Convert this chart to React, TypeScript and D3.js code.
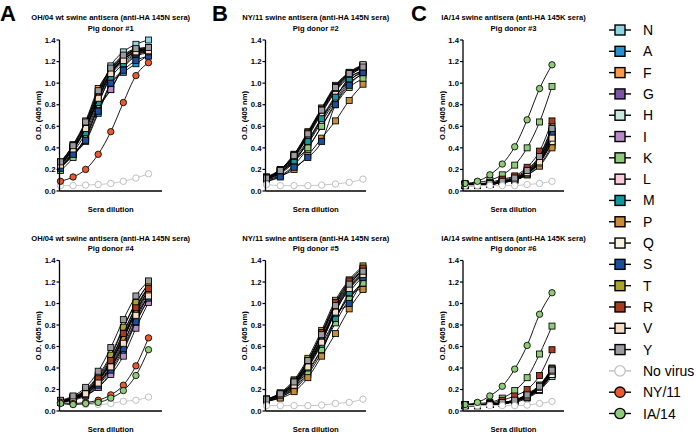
import React from 'react';
import * as d3 from 'd3';

const seriesNames = ['N', 'A', 'F', 'G', 'H', 'I', 'K', 'L', 'M', 'P', 'Q', 'S', 'T', 'R', 'V', 'Y', 'No virus', 'NY/11', 'IA/14'];
const seriesColors = ['#8fd4e2', '#2b90d2', '#f89b4c', '#7b55a5', '#c9e9da', '#b98bc5', '#8ecb79', '#f8cdd7', '#13979b', '#c98b36', '#f8f3dc', '#1b4f9f', '#a9a42b', '#a83a20', '#f6ddc5', '#9b9ba0', '#ffffff', '#e95a2f', '#8ecb79'];
const seriesShapes = ['square', 'square', 'square', 'square', 'square', 'square', 'square', 'square', 'square', 'square', 'square', 'square', 'square', 'square', 'square', 'square', 'circle', 'circle', 'circle'];
const yTicks = [0, 0.2, 0.4, 0.6, 0.8, 1.0, 1.2, 1.4];
const panelLetters = ['A', 'B', 'C'];
const titlesTop = [
  'OH/04 wt swine antisera (anti-HA 145N sera)',
  'NY/11 swine antisera (anti-HA 145N sera)',
  'IA/14 swine antisera (anti-HA 145K sera)',
];
const donorLabels = ['Pig donor #1', 'Pig donor #2', 'Pig donor #3', 'Pig donor #4', 'Pig donor #5', 'Pig donor #6'];

// series order: N A F G H I K L M P Q S T R V Y NoVirus NY/11 IA/14
const donor1 = [
  [0.23, 0.37, 0.60, 0.88, 1.16, 1.29, 1.36, 1.40],
  [0.22, 0.34, 0.46, 0.72, 0.99, 1.10, 1.18, 1.26],
  [0.26, 0.43, 0.65, 0.95, 1.12, 1.24, 1.30, 1.30],
  [0.21, 0.35, 0.48, 0.78, 0.94, 1.14, 1.25, 1.28],
  [0.25, 0.40, 0.58, 0.85, 1.10, 1.22, 1.30, 1.32],
  [0.22, 0.33, 0.50, 0.76, 0.94, 1.15, 1.26, 1.29],
  [0.19, 0.31, 0.51, 0.80, 1.07, 1.20, 1.28, 1.33],
  [0.24, 0.38, 0.57, 0.84, 1.08, 1.22, 1.29, 1.31],
  [0.23, 0.36, 0.54, 0.82, 1.05, 1.18, 1.27, 1.30],
  [0.27, 0.42, 0.63, 0.92, 1.13, 1.25, 1.31, 1.31],
  [0.25, 0.39, 0.59, 0.86, 1.11, 1.23, 1.31, 1.33],
  [0.21, 0.34, 0.47, 0.74, 1.00, 1.12, 1.21, 1.25],
  [0.26, 0.41, 0.62, 0.90, 1.12, 1.24, 1.31, 1.32],
  [0.25, 0.40, 0.61, 0.89, 1.10, 1.22, 1.28, 1.29],
  [0.24, 0.39, 0.58, 0.86, 1.09, 1.21, 1.29, 1.30],
  [0.27, 0.42, 0.64, 0.93, 1.14, 1.26, 1.32, 1.33],
  [0.05, 0.05, 0.055, 0.06, 0.07, 0.09, 0.12, 0.16],
  [0.09, 0.13, 0.20, 0.34, 0.55, 0.82, 1.07, 1.19],
  null,
];
const donor2 = [
  [0.12, 0.18, 0.30, 0.47, 0.68, 0.88, 1.02, 1.12],
  [0.10, 0.16, 0.27, 0.45, 0.66, 0.86, 1.05, 1.11],
  [0.11, 0.17, 0.28, 0.40, 0.60, 0.82, 1.00, 1.08],
  [0.12, 0.19, 0.32, 0.52, 0.74, 0.94, 1.08, 1.15],
  [0.11, 0.17, 0.29, 0.44, 0.64, 0.84, 1.02, 1.10],
  [0.12, 0.19, 0.32, 0.51, 0.73, 0.93, 1.07, 1.14],
  [0.09, 0.14, 0.24, 0.40, 0.60, 0.80, 0.96, 1.04],
  [0.12, 0.18, 0.31, 0.50, 0.72, 0.92, 1.06, 1.16],
  [0.11, 0.17, 0.28, 0.46, 0.67, 0.87, 1.04, 1.12],
  [0.10, 0.14, 0.20, 0.33, 0.49, 0.65, 0.84, 0.99],
  [0.12, 0.19, 0.33, 0.53, 0.76, 0.96, 1.10, 1.17],
  [0.09, 0.13, 0.22, 0.31, 0.46, 0.80, 0.98, 1.10],
  [0.13, 0.20, 0.34, 0.55, 0.77, 0.98, 1.10, 1.16],
  [0.13, 0.20, 0.34, 0.54, 0.76, 0.97, 1.09, 1.15],
  [0.12, 0.19, 0.32, 0.52, 0.75, 0.95, 1.08, 1.17],
  [0.12, 0.19, 0.33, 0.53, 0.75, 0.96, 1.09, 1.15],
  [0.06, 0.05, 0.05, 0.05, 0.055, 0.065, 0.08, 0.11],
  null,
  null,
];
const donor3 = [
  [0.05, 0.05, 0.06, 0.08, 0.10, 0.16, 0.27, 0.47],
  [0.06, 0.06, 0.07, 0.09, 0.11, 0.18, 0.30, 0.55],
  [0.05, 0.05, 0.06, 0.08, 0.10, 0.15, 0.24, 0.42],
  [0.06, 0.06, 0.07, 0.09, 0.12, 0.18, 0.31, 0.56],
  [0.05, 0.06, 0.06, 0.08, 0.10, 0.16, 0.26, 0.45],
  [0.06, 0.06, 0.07, 0.09, 0.11, 0.17, 0.29, 0.52],
  [0.06, 0.08, 0.10, 0.15, 0.24, 0.40, 0.64, 0.97],
  [0.06, 0.06, 0.07, 0.09, 0.11, 0.17, 0.28, 0.50],
  [0.05, 0.06, 0.07, 0.09, 0.11, 0.17, 0.28, 0.51],
  [0.05, 0.05, 0.06, 0.08, 0.10, 0.15, 0.23, 0.40],
  [0.05, 0.06, 0.06, 0.08, 0.10, 0.16, 0.26, 0.46],
  [0.06, 0.06, 0.07, 0.09, 0.12, 0.18, 0.30, 0.54],
  [0.06, 0.06, 0.07, 0.10, 0.13, 0.20, 0.33, 0.60],
  [0.07, 0.07, 0.08, 0.11, 0.14, 0.22, 0.37, 0.65],
  [0.05, 0.06, 0.07, 0.09, 0.11, 0.17, 0.27, 0.49],
  [0.06, 0.06, 0.07, 0.09, 0.12, 0.19, 0.32, 0.58],
  [0.05, 0.05, 0.05, 0.05, 0.05, 0.06, 0.07, 0.09],
  null,
  [0.07, 0.09, 0.15, 0.25, 0.41, 0.66, 0.95, 1.17],
];
const donor4 = [
  [0.09, 0.13, 0.19, 0.32, 0.50, 0.77, 1.00, 1.19],
  [0.08, 0.11, 0.15, 0.22, 0.36, 0.56, 0.82, 1.04],
  [0.09, 0.12, 0.18, 0.29, 0.46, 0.70, 0.93, 1.10],
  [0.08, 0.11, 0.16, 0.25, 0.40, 0.60, 0.85, 1.08],
  [0.09, 0.12, 0.18, 0.29, 0.45, 0.68, 0.92, 1.13],
  [0.08, 0.10, 0.14, 0.22, 0.34, 0.51, 0.77, 1.01],
  [0.08, 0.11, 0.17, 0.27, 0.42, 0.66, 0.95, 1.15],
  [0.08, 0.11, 0.16, 0.26, 0.40, 0.62, 0.88, 1.06],
  [0.09, 0.12, 0.18, 0.28, 0.44, 0.69, 0.94, 1.12],
  [0.09, 0.12, 0.17, 0.28, 0.45, 0.67, 0.91, 1.09],
  [0.09, 0.12, 0.19, 0.31, 0.48, 0.73, 0.97, 1.16],
  [0.08, 0.11, 0.15, 0.24, 0.38, 0.58, 0.83, 1.05],
  [0.09, 0.13, 0.20, 0.33, 0.52, 0.78, 1.01, 1.18],
  [0.09, 0.12, 0.18, 0.30, 0.47, 0.72, 0.96, 1.14],
  [0.08, 0.11, 0.16, 0.26, 0.41, 0.63, 0.89, 1.07],
  [0.10, 0.14, 0.22, 0.37, 0.59, 0.85, 1.07, 1.21],
  [0.08, 0.06, 0.06, 0.06, 0.07, 0.09, 0.10, 0.13],
  [0.08, 0.07, 0.08, 0.10, 0.15, 0.24, 0.42, 0.68],
  [0.07, 0.06, 0.07, 0.08, 0.12, 0.19, 0.33, 0.57],
];
const donor5 = [
  [0.10, 0.15, 0.24, 0.42, 0.64, 0.93, 1.13, 1.27],
  [0.10, 0.15, 0.25, 0.43, 0.66, 0.95, 1.16, 1.29],
  [0.09, 0.13, 0.20, 0.34, 0.55, 0.85, 1.07, 1.14],
  [0.11, 0.16, 0.27, 0.46, 0.70, 0.99, 1.19, 1.32],
  [0.10, 0.14, 0.22, 0.38, 0.58, 0.86, 1.06, 1.20],
  [0.11, 0.16, 0.27, 0.46, 0.72, 1.00, 1.20, 1.30],
  [0.09, 0.13, 0.21, 0.36, 0.57, 0.82, 1.04, 1.19],
  [0.10, 0.15, 0.25, 0.43, 0.66, 0.94, 1.15, 1.28],
  [0.10, 0.14, 0.23, 0.40, 0.62, 0.86, 1.10, 1.25],
  [0.09, 0.12, 0.18, 0.31, 0.51, 0.72, 0.95, 1.13],
  [0.10, 0.15, 0.25, 0.44, 0.68, 0.96, 1.17, 1.31],
  [0.10, 0.15, 0.26, 0.45, 0.67, 0.91, 1.00, 1.24],
  [0.11, 0.17, 0.29, 0.49, 0.75, 1.03, 1.22, 1.35],
  [0.11, 0.16, 0.28, 0.47, 0.73, 1.01, 1.21, 1.33],
  [0.10, 0.15, 0.24, 0.41, 0.64, 0.92, 1.14, 1.27],
  [0.11, 0.16, 0.27, 0.47, 0.71, 0.98, 1.18, 1.30],
  [0.05, 0.05, 0.05, 0.05, 0.055, 0.07, 0.08, 0.11],
  null,
  null,
];
const donor6 = [
  [0.05, 0.05, 0.06, 0.07, 0.08, 0.12, 0.19, 0.32],
  [0.05, 0.05, 0.06, 0.07, 0.09, 0.14, 0.21, 0.35],
  [0.05, 0.05, 0.06, 0.07, 0.09, 0.14, 0.22, 0.37],
  [0.06, 0.06, 0.06, 0.08, 0.10, 0.15, 0.23, 0.39],
  [0.05, 0.05, 0.06, 0.07, 0.09, 0.13, 0.20, 0.34],
  [0.05, 0.06, 0.06, 0.07, 0.10, 0.15, 0.23, 0.38],
  [0.06, 0.07, 0.08, 0.12, 0.19, 0.31, 0.53, 0.79],
  [0.05, 0.05, 0.06, 0.07, 0.09, 0.13, 0.21, 0.35],
  [0.05, 0.05, 0.06, 0.07, 0.09, 0.14, 0.21, 0.36],
  [0.05, 0.05, 0.06, 0.07, 0.09, 0.14, 0.22, 0.38],
  [0.05, 0.05, 0.06, 0.07, 0.09, 0.13, 0.20, 0.34],
  [0.06, 0.06, 0.06, 0.08, 0.10, 0.15, 0.24, 0.40],
  [0.06, 0.06, 0.07, 0.08, 0.10, 0.16, 0.24, 0.39],
  [0.06, 0.06, 0.07, 0.10, 0.14, 0.20, 0.33, 0.57],
  [0.05, 0.05, 0.06, 0.07, 0.09, 0.14, 0.22, 0.37],
  [0.06, 0.06, 0.06, 0.08, 0.10, 0.15, 0.23, 0.38],
  [0.05, 0.05, 0.05, 0.05, 0.05, 0.055, 0.07, 0.09],
  null,
  [0.06, 0.08, 0.14, 0.23, 0.39, 0.61, 0.90, 1.10],
];

const FONT = '"Liberation Sans", Arial, Helvetica, sans-serif';

type PanelProps = {
  data: (number[] | null)[];
  axisX: number;
  firstX: number;
  lastX: number;
  axisEnd: number;
  yTop: number;
  yBottom: number;
  title: string;
  donor: string;
};

function Panel({ data, axisX, firstX, lastX, axisEnd, yTop, yBottom, title, donor }: PanelProps) {
  const x = d3.scaleLinear().domain([0, 7]).range([firstX, lastX]);
  const y = d3.scaleLinear().domain([0, 1.4]).range([yBottom, yTop]);
  const line = d3
    .line<number>()
    .x((_, i) => x(i))
    .y((d) => y(d))
    .curve(d3.curveMonotoneX);
  const cx = (axisX + axisEnd) / 2;
  const sq = 6;
  return (
    <g>
      <text x={cx} y={yTop - 20} textAnchor="middle" fontFamily={FONT} fontWeight="bold" fontSize={7.6}>
        {title}
      </text>
      <text x={cx} y={yTop - 9.5} textAnchor="middle" fontFamily={FONT} fontWeight="bold" fontSize={7.6}>
        {donor}
      </text>
      {data.map((vals, si) =>
        vals ? (
          <g key={si}>
            <path
              d={line(vals) || ''}
              fill="none"
              stroke={si === 16 ? '#c8c8c8' : '#000'}
              strokeWidth={si === 16 ? 1 : 0.9}
            />
            {vals.map((v, i) =>
              seriesShapes[si] === 'square' ? (
                <rect
                  key={i}
                  x={x(i) - sq / 2}
                  y={y(v) - sq / 2}
                  width={sq}
                  height={sq}
                  fill={seriesColors[si]}
                  stroke="#000"
                  strokeWidth={0.85}
                />
              ) : (
                <circle
                  key={i}
                  cx={x(i)}
                  cy={y(v)}
                  r={3.2}
                  fill={seriesColors[si]}
                  stroke={si === 16 ? '#b8b8b8' : '#000'}
                  strokeWidth={si === 16 ? 0.9 : 0.85}
                />
              )
            )}
          </g>
        ) : null
      )}
      <line x1={axisX} x2={axisX} y1={yTop} y2={yBottom} stroke="#000" strokeWidth={1.3} />
      <line x1={axisX} x2={axisEnd} y1={yBottom} y2={yBottom} stroke="#000" strokeWidth={1.3} />
      {yTicks.map((t) => (
        <g key={t}>
          <line x1={axisX - 3} x2={axisX} y1={y(t)} y2={y(t)} stroke="#000" strokeWidth={1.2} />
          <text
            x={axisX - 4}
            y={y(t)}
            dy="0.35em"
            textAnchor="end"
            fontFamily={FONT}
            fontWeight="bold"
            fontSize={7.7}
          >
            {t.toFixed(1)}
          </text>
        </g>
      ))}
      <text
        transform={`translate(${axisX - 21},${(yTop + yBottom) / 2}) rotate(-90)`}
        textAnchor="middle"
        dy="0.35em"
        fontFamily={FONT}
        fontWeight="bold"
        fontSize={7.6}
      >
        O.D. (405 nm)
      </text>
      <text x={cx} y={yBottom + 20.5} textAnchor="middle" fontFamily={FONT} fontWeight="bold" fontSize={7.6}>
        Sera dilution
      </text>
    </g>
  );
}

export default function App() {
  const cols = [
    { axisX: 59.5, firstX: 60.5, lastX: 148.5, axisEnd: 162 },
    { axisX: 265.5, firstX: 266.5, lastX: 363, axisEnd: 366 },
    { axisX: 463, firstX: 465, lastX: 552, axisEnd: 564 },
  ];
  const rows = [
    { yTop: 40, yBottom: 191 },
    { yTop: 260.5, yBottom: 411 },
  ];
  const datasets = [donor1, donor2, donor3, donor4, donor5, donor6];
  const legendY = d3.scaleLinear().domain([0, 18]).range([30, 413.5]);
  return (
    <svg width={696} height={434} style={{ position: 'absolute', left: 0, top: 0, background: '#fff' }}>
      <rect width={696} height={434} fill="#fff" />
      {panelLetters.map((l, i) => (
        <text key={l} x={[0, 212, 411][i]} y={21} fontFamily={FONT} fontWeight="bold" fontSize={22}>
          {l}
        </text>
      ))}
      {rows.map((r, ri) =>
        cols.map((c, ci) => (
          <Panel
            key={`${ri}-${ci}`}
            data={datasets[ri * 3 + ci]}
            {...c}
            {...r}
            title={titlesTop[ci]}
            donor={donorLabels[ri * 3 + ci]}
          />
        ))
      )}
      {seriesNames.map((name, i) => {
        const ly = legendY(i);
        const isNoVirus = i === 16;
        return (
          <g key={name}>
            <line x1={609} x2={631} y1={ly} y2={ly} stroke={isNoVirus ? '#c0c0c0' : '#000'} strokeWidth={1.4} />
            {seriesShapes[i] === 'square' ? (
              <rect x={615} y={ly - 5} width={10} height={10} fill={seriesColors[i]} stroke="#000" strokeWidth={1.4} />
            ) : (
              <circle cx={620} cy={ly} r={5.2} fill={seriesColors[i]} stroke={isNoVirus ? '#c0c0c0' : '#000'} strokeWidth={1.3} />
            )}
            <text x={643} y={ly} dy="0.36em" fontFamily={FONT} fontSize={14}>
              {name}
            </text>
          </g>
        );
      })}
    </svg>
  );
}
